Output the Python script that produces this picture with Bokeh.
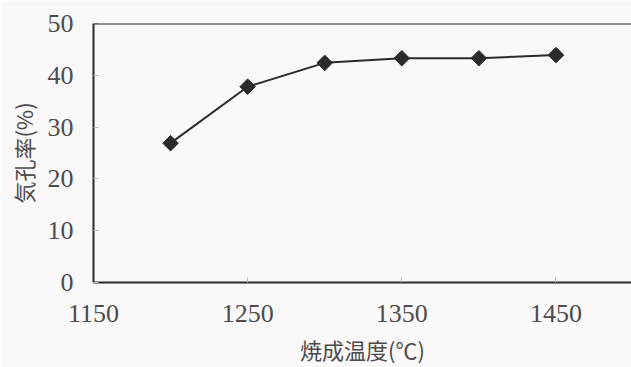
import math
from bokeh.plotting import figure
from bokeh.models import FixedTicker, Range1d, Span
from bokeh.embed import file_html
from bokeh.resources import INLINE

# Porosity vs. firing temperature
temps = [1200, 1250, 1300, 1350, 1400, 1450]
porosity = [26.9, 37.8, 42.4, 43.3, 43.3, 43.9]
x_ticks = [1150, 1250, 1350, 1450]
y_ticks = [0, 10, 20, 30, 40, 50]

bg = "#fbf8f9"
ink = "#2b2b2b"
text_col = "#4d4b4c"
num_font = "Liberation Serif"
cjk_font = "Noto Sans CJK JP"

p = figure(width=631, height=367, output_backend="svg", toolbar_location=None,
           x_range=Range1d(1150, 1499), y_range=Range1d(0, 50),
           min_border_left=93, min_border_right=0, min_border_top=23,
           min_border_bottom=85, background_fill_color=bg,
           border_fill_color=bg, outline_line_color=None)
p.grid.visible = False

for ax in (p.xaxis, p.yaxis):
    ax.axis_line_color = ink
    ax.axis_line_width = 2
    ax.major_tick_in = 5
    ax.major_tick_out = 0
    ax.major_tick_line_color = "#bbbbbb"
    ax.minor_tick_line_color = None
    ax.major_label_text_font = num_font
    ax.major_label_text_font_size = "26px"
    ax.major_label_text_color = text_col
    ax.axis_label_text_font = cjk_font
    ax.axis_label_text_font_size = "22px"
    ax.axis_label_text_font_style = "normal"
    ax.axis_label_text_color = text_col

p.xaxis.ticker = FixedTicker(ticks=x_ticks)
p.yaxis.ticker = FixedTicker(ticks=y_ticks)
p.xaxis.major_label_standoff = 22
p.yaxis.major_label_standoff = 20
p.xaxis.axis_label = "焼成温度(℃)"
p.yaxis.axis_label = "気孔率(%)"
p.xaxis.axis_label_standoff = 8
p.yaxis.axis_label_standoff = 6

# top border of the plotting area
p.add_layout(Span(location=50, dimension="width", line_color=ink, line_width=2))

p.line(temps, porosity, line_color=ink, line_width=2)
p.scatter(temps, porosity, marker="square", size=11, angle=math.pi / 4,
          fill_color=ink, line_color=ink)

open("out.html", "w").write(file_html(p, INLINE))
